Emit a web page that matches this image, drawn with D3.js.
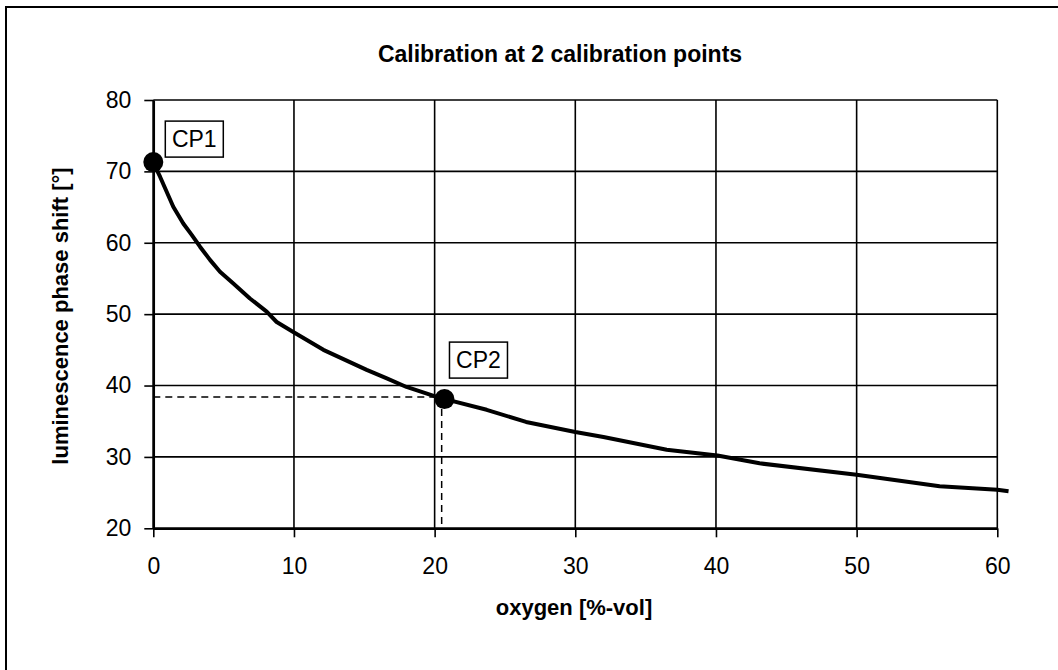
<!DOCTYPE html>
<html>
<head>
<meta charset="utf-8">
<script src="https://cdn.jsdelivr.net/npm/d3@7"></script>
<style>
  body { margin: 0; background: #fff; }
  svg { display: block; font-family: Arial, "Liberation Sans", sans-serif; }
</style>
</head>
<body>
<svg width="1058" height="670"></svg>
<script>
// curve: oxygen [%-vol] -> phase shift [deg]
var oxygen = [0, 0.48, 1.42, 2.13, 2.73, 3.32, 4.03, 4.74, 5.69, 6.87, 8.06, 8.77, 9.95, 12.09, 15.17, 16.6, 18.0, 20.15, 20.74, 23.7, 26.5, 30.0, 32.0, 36.5, 40.1, 43.1, 50.0, 55.9, 60.0, 60.8];
var phase  = [71.2, 69.25, 65.05, 62.7, 61.1, 59.45, 57.6, 55.95, 54.3, 52.2, 50.35, 48.9, 47.5, 45.0, 42.2, 41.0, 39.8, 38.4, 38.1, 36.6, 34.9, 33.5, 32.8, 31.0, 30.2, 29.1, 27.5, 25.9, 25.4, 25.2];

// calibration points
var cpNames = ["CP1", "CP2"];
var cpX = [0, 20.7];
var cpY = [71.3, 38.1];

// dashed guide to CP2
var guideX = 20.5;
var guideY = 38.4;

var xTicks = [0, 10, 20, 30, 40, 50, 60];
var yTicks = [20, 30, 40, 50, 60, 70, 80];

var svg = d3.select("svg");

// outer frame (runs off the right and bottom edge)
svg.append("rect")
   .attr("x", 6).attr("y", 7)
   .attr("width", 1100).attr("height", 700)
   .style("fill", "none")
   .style("stroke", "#000")
   .style("stroke-width", "2px");

var x = d3.scaleLinear().domain([0, 60]).range([153.3, 997.3]);
var y = d3.scaleLinear().domain([20, 80]).range([528.3, 100]);

// grid
svg.append("g").selectAll("line").data(xTicks).join("line")
   .attr("x1", d => x(d)).attr("x2", d => x(d))
   .attr("y1", y(80)).attr("y2", y(20))
   .style("stroke", "#000").style("stroke-width", "1.6px");
svg.append("g").selectAll("line").data(yTicks).join("line")
   .attr("x1", x(0)).attr("x2", x(60))
   .attr("y1", d => y(d)).attr("y2", d => y(d))
   .style("stroke", "#000").style("stroke-width", "1.6px");

// axes
var xAxis = svg.append("g")
   .attr("transform", "translate(0," + y(20) + ")")
   .call(d3.axisBottom(x).tickValues(xTicks).tickSize(9).tickPadding(20).tickSizeOuter(0));
var yAxis = svg.append("g")
   .attr("transform", "translate(" + x(0) + ",0)")
   .call(d3.axisLeft(y).tickValues(yTicks).tickSize(9).tickPadding(13).tickSizeOuter(0));

[xAxis, yAxis].forEach(function (g) {
  g.select(".domain").style("stroke", "#000").style("stroke-width", "2.5px");
  g.selectAll(".tick line").style("stroke", "#000").style("stroke-width", "1.6px");
  g.selectAll(".tick text")
   .style("font-family", "Arial, 'Liberation Sans', sans-serif")
   .style("font-size", "23px")
   .style("fill", "#000");
});

// dashed guides
svg.append("line")
   .attr("x1", x(0)).attr("x2", x(guideX))
   .attr("y1", y(guideY)).attr("y2", y(guideY))
   .style("stroke", "#000").style("stroke-width", "1.5px")
   .style("stroke-dasharray", "7,5");
svg.append("line")
   .attr("x1", x(guideX)).attr("x2", x(guideX))
   .attr("y1", y(guideY)).attr("y2", y(20))
   .style("stroke", "#000").style("stroke-width", "1.5px")
   .style("stroke-dasharray", "7,5");

// curve
var line = d3.line()
   .x(d => x(d[0]))
   .y(d => y(d[1]));
svg.append("path")
   .datum(d3.zip(oxygen, phase))
   .attr("d", line)
   .style("fill", "none")
   .style("stroke", "#000")
   .style("stroke-width", "4px")
   .style("stroke-linejoin", "round");

// calibration dots
svg.append("g").selectAll("circle").data(d3.range(cpNames.length)).join("circle")
   .attr("cx", i => x(cpX[i]))
   .attr("cy", i => y(cpY[i]))
   .attr("r", 10)
   .style("fill", "#000");

// labels in boxes, offset from their dots
var boxOffset = [[12, -41], [5, -57]];
cpNames.forEach(function (name, i) {
  var bx = x(cpX[i]) + boxOffset[i][0];
  var by = y(cpY[i]) + boxOffset[i][1];
  svg.append("rect")
     .attr("x", bx).attr("y", by)
     .attr("width", 58).attr("height", 36)
     .style("fill", "#fff")
     .style("stroke", "#000")
     .style("stroke-width", "1.5px");
  svg.append("text")
     .attr("x", bx + 29).attr("y", by + 26)
     .attr("text-anchor", "middle")
     .style("font-size", "23px")
     .text(name);
});

// title and axis titles
svg.append("text")
   .attr("x", 560).attr("y", 62)
   .attr("text-anchor", "middle")
   .style("font-size", "23px")
   .style("font-weight", "bold")
   .text("Calibration at 2 calibration points");

svg.append("text")
   .attr("x", 574).attr("y", 615)
   .attr("text-anchor", "middle")
   .style("font-size", "22px")
   .style("font-weight", "bold")
   .text("oxygen [%-vol]");

svg.append("text")
   .attr("transform", "translate(68," + 316 + ") rotate(-90)")
   .attr("text-anchor", "middle")
   .style("font-size", "22px")
   .style("font-weight", "bold")
   .text("luminescence phase shift [°]");
</script>
</body>
</html>
